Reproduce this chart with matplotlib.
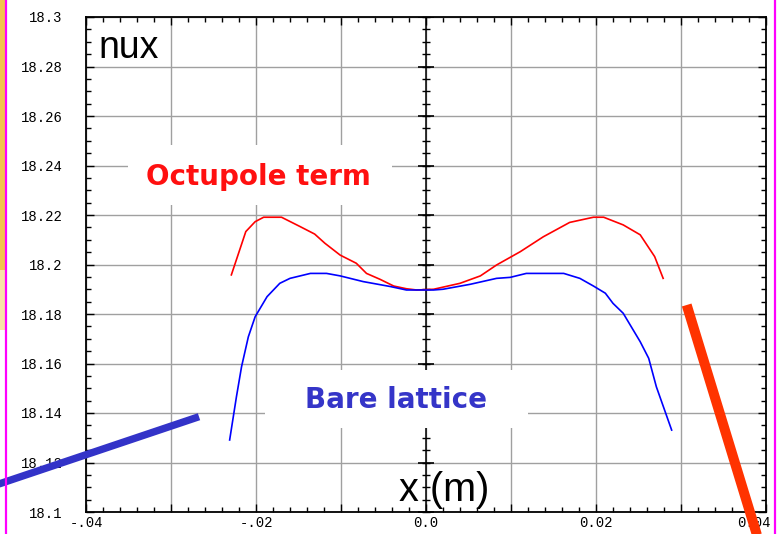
import numpy as np
import matplotlib
matplotlib.use("Agg")
import matplotlib.pyplot as plt
import matplotlib.transforms as mtransforms
from matplotlib.patches import Rectangle
from matplotlib.lines import Line2D
from matplotlib.ticker import FixedLocator, FixedFormatter, MultipleLocator

# Tune vs. horizontal amplitude: octupole term included
x_oct = [-0.0229, -0.0212, -0.0201, -0.0191, -0.0170, -0.0148, -0.0131, -0.0119,
         -0.0101, -0.0082, -0.0070, -0.0054, -0.0038, -0.0023, -0.0011, 0.0009,
         0.0040, 0.0064, 0.0083, 0.0111, 0.0138, 0.0169, 0.0197, 0.0209,
         0.0232, 0.0252, 0.0269, 0.0279]
nux_oct = [18.1958, 18.2133, 18.2173, 18.2191, 18.2191, 18.2153, 18.2123, 18.2086,
           18.2038, 18.2005, 18.1964, 18.1940, 18.1913, 18.1902, 18.1897, 18.1900,
           18.1924, 18.1954, 18.1998, 18.2052, 18.2112, 18.2170, 18.2191, 18.2191,
           18.2160, 18.2120, 18.2032, 18.1944]

# Tune vs. horizontal amplitude: bare lattice
x_bare = [-0.0231, -0.0223, -0.0217, -0.0209, -0.0201, -0.0187, -0.0172, -0.0160,
          -0.0136, -0.0117, -0.0101, -0.0074, -0.0042, -0.0023, 0.0009, 0.0020,
          0.0052, 0.0083, 0.0099, 0.0118, 0.0162, 0.0181, 0.0197, 0.0211,
          0.0220, 0.0232, 0.0252, 0.0262, 0.0271, 0.0289]
nux_bare = [18.1291, 18.1466, 18.1587, 18.1708, 18.1789, 18.1870, 18.1924, 18.1944,
            18.1964, 18.1964, 18.1954, 18.1931, 18.1911, 18.1897, 18.1897, 18.1900,
            18.1920, 18.1944, 18.1948, 18.1964, 18.1964, 18.1944, 18.1913, 18.1884,
            18.1843, 18.1803, 18.1688, 18.1621, 18.1506, 18.1331]

x_ticks = [-0.04, -0.03, -0.02, -0.01, 0.0, 0.01, 0.02, 0.03, 0.04]
x_labels = ["-.04", "", "-.02", "", "0.0", "", "0.02", "", "0.04"]
y_ticks = [18.1, 18.12, 18.14, 18.16, 18.18, 18.2, 18.22, 18.24, 18.26, 18.28, 18.3]
y_labels = ["18.1", "18.12", "18.14", "18.16", "18.18", "18.2", "18.22",
            "18.24", "18.26", "18.28", "18.3"]

W, H = 777, 534
fig = plt.figure(figsize=(W / 100, H / 100), dpi=100)
fig.patch.set_facecolor("white")


def fx(px):
    return px / W


def fy(py):
    return 1 - py / H


ax = fig.add_axes([fx(86), fy(512), fx(766) - fx(86), fy(17) - fy(512)])
ax.set_xlim(-0.04, 0.04)
ax.set_ylim(18.1, 18.3)

ax.xaxis.set_major_locator(FixedLocator(x_ticks))
ax.xaxis.set_major_formatter(FixedFormatter(x_labels))
ax.xaxis.set_minor_locator(MultipleLocator(0.002))
ax.yaxis.set_major_locator(FixedLocator(y_ticks))
ax.yaxis.set_major_formatter(FixedFormatter(y_labels))
ax.yaxis.set_minor_locator(MultipleLocator(0.005))

ax.tick_params(which="both", direction="in", top=True, right=True,
               colors="black", width=1.0)
ax.tick_params(which="major", length=6)
ax.tick_params(which="minor", length=3.5)
ax.tick_params(axis="y", which="major", pad=17)
ax.tick_params(axis="x", which="major", pad=3)
for lab in ax.get_xticklabels() + ax.get_yticklabels():
    lab.set_fontfamily("Liberation Mono")
    lab.set_fontsize(10)

# keep the rightmost x label inside the page edge
last = ax.get_xticklabels()[-1]
last.set_transform(last.get_transform() +
                   mtransforms.ScaledTranslation(-12 / 100, 0, fig.dpi_scale_trans))

for s in ax.spines.values():
    s.set_linewidth(1.3)
    s.set_color("black")

ax.grid(True, which="major", color="#a0a0a0", linewidth=1.0)
ax.set_axisbelow(True)

# central x = 0 axis with cross ticks
ax.axvline(0.0, color="black", linewidth=1.1, zorder=2)
y_minor = np.arange(18.1, 18.3001, 0.005)
ax.plot(np.zeros_like(y_minor), y_minor, linestyle="none", marker="_",
        markersize=6, markeredgewidth=1.0, color="black", zorder=2, clip_on=False)
ax.plot(np.zeros(len(y_ticks)), y_ticks, linestyle="none", marker="_",
        markersize=11, markeredgewidth=1.2, color="black", zorder=2)

ax.plot(x_oct, nux_oct, color="#ff0000", linewidth=1.2, zorder=3)
ax.plot(x_bare, nux_bare, color="#0000ff", linewidth=1.2, zorder=3)

# white label boxes
for (x0, y0, x1, y1) in [(128, 145, 392, 205), (265, 370, 528, 428)]:
    fig.patches.append(Rectangle((fx(x0), fy(y1)), fx(x1) - fx(x0), fy(y0) - fy(y1),
                                 transform=fig.transFigure, facecolor="white",
                                 edgecolor="none", zorder=5))

fig.text(fx(258), fy(177), "Octupole term", color="#ff1010", fontsize=20,
         fontweight="bold", family="DejaVu Sans", ha="center", va="center", zorder=6)
fig.text(fx(396), fy(400), "Bare lattice", color="#3535c8", fontsize=20,
         fontweight="bold", family="DejaVu Sans", ha="center", va="center", zorder=6)

fig.text(fx(98), fy(58), "nux", color="black", fontsize=27,
         family="Liberation Sans", ha="left", va="baseline", zorder=6)
fig.text(fx(399), fy(501), "x (m)", color="black", fontsize=28.5,
         family="Liberation Sans", ha="left", va="baseline", zorder=6)

# pointer strokes
fig.lines.append(Line2D([fx(686.7), fx(760)], [fy(305), fy(545)],
                        transform=fig.transFigure, color="#ff3300",
                        linewidth=7.2, solid_capstyle="butt", zorder=7))
fig.lines.append(Line2D([fx(199), fx(-10)], [fy(416.7), fy(487)],
                        transform=fig.transFigure, color="#3333c8",
                        linewidth=5.3, solid_capstyle="butt", zorder=7))

# page border decoration
fig.patches.append(Rectangle((0, fy(270)), fx(5), fy(0) - fy(270),
                             transform=fig.transFigure, facecolor="#f2c44c",
                             edgecolor="none", zorder=8))
fig.patches.append(Rectangle((0, fy(330)), fx(5), fy(270) - fy(330),
                             transform=fig.transFigure, facecolor="#f8e4a6",
                             edgecolor="none", zorder=8))
fig.lines.append(Line2D([fx(6), fx(6)], [0, 1], transform=fig.transFigure,
                        color="#ff00ff", linewidth=1.6, zorder=9))
fig.lines.append(Line2D([fx(774.5), fx(774.5)], [0, 1], transform=fig.transFigure,
                        color="#ff00ff", linewidth=1.6, zorder=9))

fig.savefig("out.png", dpi=100)
